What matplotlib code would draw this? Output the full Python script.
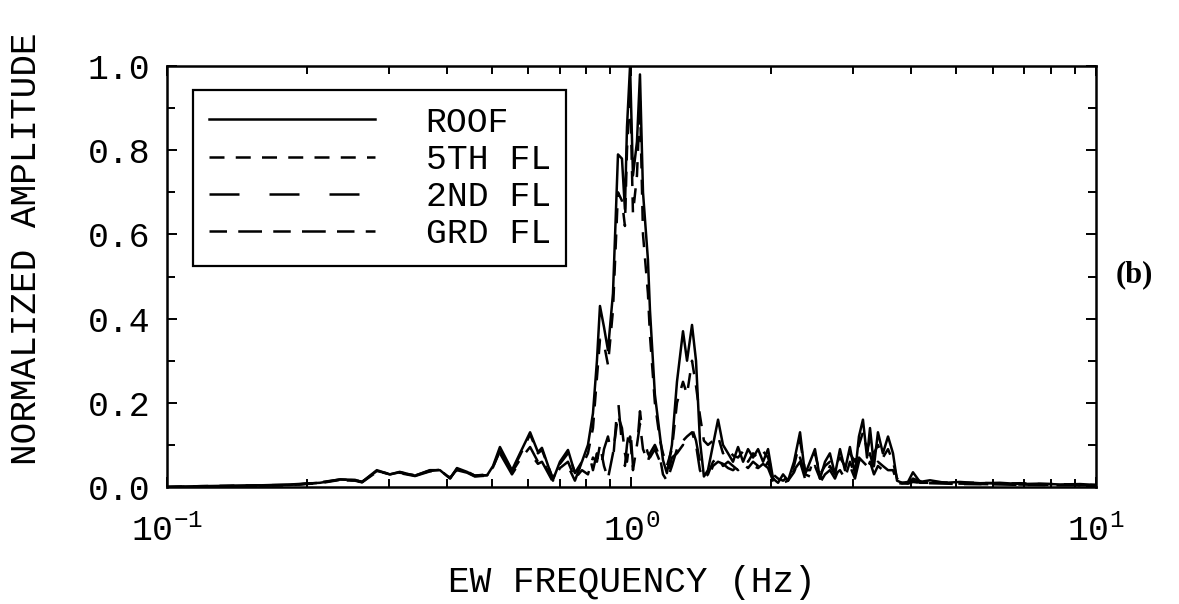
import matplotlib
matplotlib.use("Agg")
import matplotlib.pyplot as plt
from matplotlib.ticker import MultipleLocator, FixedLocator, NullFormatter

# spectra of the EW records, normalised to the roof peak
freq = [0.100, 0.118, 0.137, 0.159, 0.184, 0.2135, 0.236, 0.254, 0.263, 0.283,
        0.302, 0.317, 0.342, 0.368, 0.387, 0.407, 0.421, 0.4425, 0.460, 0.489,
        0.5035, 0.521, 0.553, 0.5754, 0.605, 0.629, 0.6416, 0.6776, 0.7015, 0.730,
        0.7555, 0.7823, 0.806, 0.8262, 0.8427, 0.8554, 0.8726, 0.890, 0.9124, 0.9353,
        0.954, 0.968, 0.978, 0.993, 1.0074, 1.0276, 1.043, 1.0588, 1.085, 1.096,
        1.123, 1.152, 1.169, 1.192, 1.222, 1.253, 1.291, 1.317, 1.350, 1.377,
        1.404, 1.432, 1.461, 1.498, 1.536, 1.574, 1.614, 1.654, 1.696, 1.739,
        1.782, 1.827, 1.873, 1.920, 1.968, 2.017, 2.068, 2.120, 2.173, 2.238,
        2.306, 2.364, 2.423, 2.483, 2.546, 2.610, 2.674, 2.742, 2.811, 2.881,
        2.953, 3.028, 3.088, 3.150, 3.214, 3.262, 3.327, 3.393, 3.477, 3.567,
        3.656, 3.730, 3.822, 3.938, 4.036, 4.179, 4.391, 4.731, 5.096, 5.627,
        6.214, 6.862, 7.576, 8.366, 9.239, 9.950]

roof = [0.000, 0.002, 0.003, 0.004, 0.006, 0.010, 0.018, 0.017, 0.012, 0.040,
        0.030, 0.035, 0.027, 0.040, 0.040, 0.020, 0.045, 0.036, 0.026, 0.028,
        0.050, 0.095, 0.040, 0.080, 0.130, 0.083, 0.093, 0.017, 0.060, 0.088,
        0.033, 0.060, 0.100, 0.175, 0.300, 0.430, 0.380, 0.325, 0.460, 0.790,
        0.780, 0.660, 0.855, 1.000, 0.740, 0.820, 0.980, 0.700, 0.540, 0.420,
        0.220, 0.120, 0.064, 0.033, 0.100, 0.250, 0.370, 0.300, 0.385, 0.300,
        0.110, 0.025, 0.040, 0.100, 0.160, 0.100, 0.080, 0.060, 0.095, 0.060,
        0.090, 0.070, 0.090, 0.060, 0.090, 0.020, 0.010, 0.030, 0.015, 0.060,
        0.130, 0.030, 0.060, 0.090, 0.020, 0.060, 0.080, 0.030, 0.090, 0.040,
        0.095, 0.030, 0.120, 0.160, 0.070, 0.140, 0.050, 0.130, 0.080, 0.120,
        0.080, 0.015, 0.010, 0.012, 0.035, 0.012, 0.016, 0.010, 0.012, 0.009,
        0.010, 0.007, 0.008, 0.006, 0.007, 0.005]

fl5 = [0.000, 0.002, 0.003, 0.004, 0.005, 0.009, 0.017, 0.016, 0.012, 0.038,
       0.031, 0.034, 0.028, 0.038, 0.041, 0.022, 0.042, 0.037, 0.027, 0.030,
       0.047, 0.088, 0.038, 0.075, 0.125, 0.080, 0.088, 0.020, 0.055, 0.080,
       0.035, 0.050, 0.080, 0.140, 0.260, 0.350, 0.340, 0.290, 0.420, 0.700,
       0.680, 0.620, 0.800, 0.950, 0.650, 0.740, 0.920, 0.600, 0.460, 0.360,
       0.200, 0.110, 0.080, 0.050, 0.090, 0.200, 0.250, 0.220, 0.300, 0.240,
       0.170, 0.110, 0.100, 0.110, 0.120, 0.080, 0.090, 0.075, 0.070, 0.085,
       0.060, 0.080, 0.070, 0.085, 0.070, 0.030, 0.020, 0.015, 0.025, 0.050,
       0.110, 0.040, 0.040, 0.080, 0.030, 0.050, 0.060, 0.050, 0.070, 0.050,
       0.080, 0.060, 0.100, 0.130, 0.090, 0.110, 0.080, 0.100, 0.070, 0.090,
       0.060, 0.020, 0.012, 0.010, 0.020, 0.014, 0.012, 0.011, 0.010, 0.010,
       0.008, 0.009, 0.007, 0.007, 0.005, 0.005]

fl2 = [0.000, 0.001, 0.002, 0.003, 0.005, 0.010, 0.016, 0.015, 0.011, 0.036,
       0.029, 0.033, 0.026, 0.037, 0.038, 0.020, 0.040, 0.034, 0.025, 0.027,
       0.045, 0.080, 0.030, 0.060, 0.080, 0.055, 0.060, 0.012, 0.040, 0.050,
       0.015, 0.060, 0.090, 0.040, 0.080, 0.030, 0.090, 0.120, 0.060, 0.210,
       0.100, 0.050, 0.100, 0.150, 0.050, 0.090, 0.180, 0.120, 0.080, 0.070,
       0.090, 0.060, 0.040, 0.020, 0.070, 0.080, 0.100, 0.090, 0.140, 0.110,
       0.060, 0.030, 0.020, 0.050, 0.060, 0.055, 0.045, 0.040, 0.050, 0.040,
       0.060, 0.050, 0.045, 0.055, 0.045, 0.015, 0.008, 0.020, 0.010, 0.040,
       0.060, 0.020, 0.030, 0.040, 0.010, 0.030, 0.040, 0.020, 0.050, 0.030,
       0.050, 0.020, 0.060, 0.080, 0.040, 0.060, 0.030, 0.050, 0.040, 0.050,
       0.030, 0.010, 0.008, 0.009, 0.015, 0.010, 0.010, 0.008, 0.008, 0.007,
       0.006, 0.006, 0.005, 0.005, 0.004, 0.004]

grd = [0.000, 0.001, 0.002, 0.003, 0.004, 0.011, 0.018, 0.016, 0.012, 0.038,
       0.030, 0.036, 0.027, 0.039, 0.040, 0.021, 0.043, 0.035, 0.027, 0.028,
       0.048, 0.085, 0.035, 0.065, 0.095, 0.060, 0.065, 0.015, 0.045, 0.060,
       0.020, 0.040, 0.030, 0.070, 0.060, 0.100, 0.050, 0.020, 0.080, 0.170,
       0.140, 0.080, 0.060, 0.120, 0.040, 0.100, 0.150, 0.090, 0.060, 0.080,
       0.100, 0.070, 0.030, 0.015, 0.050, 0.090, 0.110, 0.120, 0.130, 0.100,
       0.040, 0.020, 0.030, 0.060, 0.070, 0.050, 0.060, 0.050, 0.040, 0.055,
       0.045, 0.060, 0.050, 0.040, 0.060, 0.020, 0.015, 0.010, 0.015, 0.035,
       0.070, 0.030, 0.025, 0.050, 0.020, 0.025, 0.050, 0.030, 0.040, 0.020,
       0.060, 0.030, 0.070, 0.060, 0.050, 0.080, 0.040, 0.060, 0.050, 0.040,
       0.040, 0.012, 0.010, 0.008, 0.012, 0.010, 0.009, 0.008, 0.007, 0.007,
       0.006, 0.005, 0.005, 0.004, 0.004, 0.004]

labels = ["ROOF", "5TH FL", "2ND FL", "GRD FL"]
ytick_vals = [0.0, 0.2, 0.4, 0.6, 0.8, 1.0]
xtick_vals = [0.1, 1.0, 10.0]
xtick_text = ["$10^{-1}$", "$10^{0}$", "$10^{1}$"]

plt.rcParams['font.family'] = ['Liberation Mono', 'DejaVu Sans']
plt.rcParams['mathtext.fontset'] = 'custom'
plt.rcParams['mathtext.rm'] = 'Liberation Mono'
plt.rcParams['mathtext.it'] = 'Liberation Mono'

fig = plt.figure(figsize=(11.79, 6.04), dpi=100)
ax = fig.add_axes([0.1416, 0.1937, 0.788, 0.697])

lw = 1.8
ax.plot(freq, grd, color='k', lw=lw, dashes=(7, 4.5, 9.5, 4.5), label=labels[3])
ax.plot(freq, fl2, color='k', lw=lw, dashes=(12, 12), label=labels[2])
ax.plot(freq, fl5, color='k', lw=lw, dashes=(6, 4.5), label=labels[1])
ax.plot(freq, roof, color='k', lw=lw, label=labels[0])

ax.set_xscale('log')
ax.set_xlim(0.1, 10)
ax.set_ylim(0, 1.0)

ax.xaxis.set_major_locator(FixedLocator(xtick_vals))
ax.set_xticklabels(xtick_text)
minors = [m * d for d in (0.1, 1.0) for m in range(2, 10)]
ax.xaxis.set_minor_locator(FixedLocator(minors))
ax.xaxis.set_minor_formatter(NullFormatter())
ax.set_yticks(ytick_vals)
ax.set_yticklabels(["%.1f" % v for v in ytick_vals])
ax.yaxis.set_minor_locator(MultipleLocator(0.1))

ax.tick_params(which='both', direction='in', top=True, right=True, width=1.4)
ax.tick_params(which='major', length=7)
ax.tick_params(which='minor', length=6)
ax.tick_params(axis='y', labelsize=25, pad=12)
ax.tick_params(axis='x', labelsize=25, pad=20)
for sp in ax.spines.values():
    sp.set_linewidth(1.8)

ax.set_xlabel("EW FREQUENCY (Hz)", fontsize=26, labelpad=12)
ax.set_ylabel("NORMALIZED AMPLITUDE", fontsize=26)
ax.yaxis.set_label_coords(-0.132, 0.565)

handles, labs = ax.get_legend_handles_labels()
order = [3, 2, 1, 0]
leg = ax.legend([handles[i] for i in order], [labs[i] for i in order],
                loc='upper left', bbox_to_anchor=(0.028, 0.943),
                borderaxespad=0, fontsize=25, handlelength=4.8,
                handletextpad=1.45, labelspacing=0.12, borderpad=0.45,
                fancybox=False, framealpha=1, edgecolor='k')
leg.get_frame().set_linewidth(1.6)

fig.text(0.9625, 0.545, "(b)", fontsize=22, fontweight='bold',
         family='Liberation Serif', ha='center', va='center')

fig.savefig("out.png", dpi=100)
